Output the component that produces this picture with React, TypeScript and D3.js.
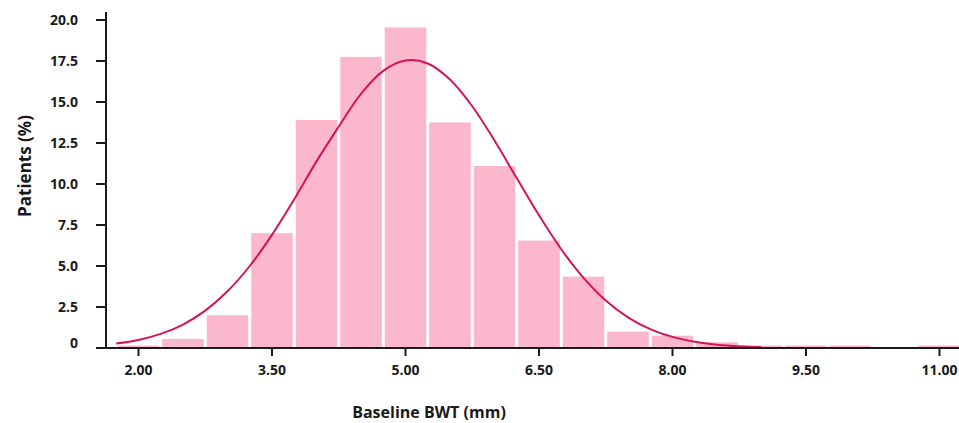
import React, { useEffect, useRef } from "react";
import * as d3 from "d3";

// histogram bins (mm), bin width 0.5
const binStarts = [1.75, 2.25, 2.75, 3.25, 3.75, 4.25, 4.75, 5.25, 5.75, 6.25, 6.75, 7.25, 7.75, 8.25, 8.75, 9.25, 9.75, 10.25, 10.75];
const binPercents = [0.15, 0.55, 2.0, 7.0, 13.9, 17.75, 19.55, 13.75, 11.1, 6.55, 4.35, 1.0, 0.75, 0.35, 0.15, 0.15, 0.15, 0, 0.15];
const binWidth = 0.5;

// fitted curve
const curveX = [1.75, 2.0, 2.25, 2.5, 2.75, 3.0, 3.25, 3.5, 3.75, 4.0, 4.25, 4.5, 4.75, 5.0, 5.25, 5.5, 5.75, 6.0, 6.25, 6.5, 6.75, 7.0, 7.25, 7.5, 7.75, 8.0, 8.25, 8.5, 8.75, 9.0];
const curveY = [0.27, 0.49, 0.86, 1.43, 2.28, 3.46, 5.0, 6.9, 9.07, 11.38, 13.5, 15.5, 16.9, 17.53, 17.35, 16.37, 14.74, 12.65, 10.36, 8.09, 6.02, 4.28, 2.9, 1.87, 1.15, 0.68, 0.38, 0.2, 0.1, 0.05];

const xTicks = [2, 3.5, 5, 6.5, 8, 9.5, 11];
const yTicks = [0, 2.5, 5, 7.5, 10, 12.5, 15, 17.5, 20];

const FONT = "'Open Sans', 'DejaVu Sans', sans-serif";

const App = () => {
  const svgRef = useRef<SVGSVGElement>(null);

  useEffect(() => {
    drawChart();
  }, []);

  const drawChart = () => {
    const width = 959;
    const height = 423;

    const svg = d3.select(svgRef.current).attr("width", width).attr("height", height);
    svg.selectAll("*").remove();

    const xScale = d3.scaleLinear().domain([2, 11]).range([138.5, 939.5]);
    const yScale = d3.scaleLinear().domain([0, 20]).range([348, 20]);

    // bars
    svg
      .append("g")
      .selectAll("rect")
      .data(binStarts.map((s, i) => ({ s, v: binPercents[i] })))
      .enter()
      .append("rect")
      .attr("x", (d) => xScale(d.s) + 1.5)
      .attr("width", (d) => xScale(d.s + binWidth) - xScale(d.s) - 3)
      .attr("y", (d) => yScale(d.v))
      .attr("height", (d) => yScale(0) - yScale(d.v))
      .attr("fill", "#fbb7cb");

    // normal curve
    const line = d3
      .line<number>()
      .x((d, i) => xScale(curveX[i]))
      .y((d) => yScale(d))
      .curve(d3.curveCatmullRom);

    svg
      .append("path")
      .datum(curveY)
      .attr("d", line)
      .attr("fill", "none")
      .attr("stroke", "#d4145a")
      .attr("stroke-width", 2);

    // y axis
    const yAxis = svg.append("g").attr("transform", "translate(106,0)");
    yAxis
      .append("line")
      .attr("y1", 12)
      .attr("y2", yScale(0))
      .attr("stroke", "#1a1a1a")
      .attr("stroke-width", 2);
    const yt = yAxis.selectAll("g.tick").data(yTicks).enter().append("g").attr("class", "tick");
    yt.append("line")
      .attr("x1", -10)
      .attr("x2", 0)
      .attr("y1", (d) => yScale(d))
      .attr("y2", (d) => yScale(d))
      .attr("stroke", "#1a1a1a")
      .attr("stroke-width", 2);
    yt.append("text")
      .attr("x", -28)
      .attr("y", (d) => yScale(d) + (d === 0 ? -5 : 0))
      .attr("dy", "0.35em")
      .attr("text-anchor", "end")
      .style("font-family", FONT)
      .style("font-size", "14px")
      .style("font-weight", "bold")
      .style("fill", "#1a1a1a")
      .text((d) => (d === 0 ? "0" : d3.format(".1f")(d)));

    // x axis
    const xAxis = svg.append("g").attr("transform", `translate(0,${yScale(0)})`);
    xAxis
      .append("line")
      .attr("x1", 96)
      .attr("x2", width)
      .attr("stroke", "#1a1a1a")
      .attr("stroke-width", 2);
    const xt = xAxis.selectAll("g.tick").data(xTicks).enter().append("g").attr("class", "tick");
    xt.append("line")
      .attr("x1", (d) => xScale(d))
      .attr("x2", (d) => xScale(d))
      .attr("y1", 0)
      .attr("y2", 8)
      .attr("stroke", "#1a1a1a")
      .attr("stroke-width", 2);
    xt.append("text")
      .attr("x", (d) => xScale(d))
      .attr("y", 27)
      .attr("text-anchor", "middle")
      .style("font-family", FONT)
      .style("font-size", "14px")
      .style("font-weight", "bold")
      .style("fill", "#1a1a1a")
      .text((d) => d3.format(".2f")(d));

    // X-axis label
    svg
      .append("text")
      .attr("x", 429)
      .attr("y", 418)
      .attr("text-anchor", "middle")
      .style("font-family", FONT)
      .style("font-size", "16px")
      .style("font-weight", "bold")
      .style("fill", "#1a1a1a")
      .text("Baseline BWT (mm)");

    // Y-axis label
    svg
      .append("text")
      .attr("transform", "rotate(-90)")
      .attr("x", -166)
      .attr("y", 31)
      .attr("text-anchor", "middle")
      .style("font-family", FONT)
      .style("font-size", "17px")
      .style("font-weight", "bold")
      .style("fill", "#1a1a1a")
      .text("Patients (%)");
  };

  return <svg ref={svgRef} style={{ position: "absolute", left: 0, top: 0, background: "#fff" }}></svg>;
};

export default App;
